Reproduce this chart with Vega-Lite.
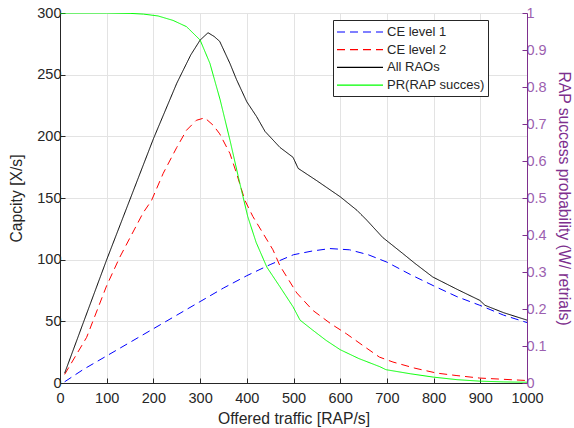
{
  "$schema": "https://vega.github.io/schema/vega-lite/v6.json",
  "width": 467,
  "height": 370,
  "autosize": {"type": "none"},
  "padding": {"left": 60, "top": 13, "right": 47, "bottom": 45},
  "background": "white",
  "config": {
    "view": {"stroke": "#e6e6e6"},
    "font": "Liberation Sans",
    "axis": {
      "labelFont": "Liberation Sans",
      "titleFont": "Liberation Sans",
      "labelFontSize": 14.5,
      "titleFontSize": 15.7,
      "titleFontWeight": "normal",
      "labelColor": "#262626",
      "titleColor": "#262626",
      "domainColor": "#262626",
      "tickColor": "#262626",
      "gridColor": "#e3e3e3",
      "gridWidth": 1,
      "tickSize": -5,
      "labelPadding": 4,
      "labelOverlap": false,
      "labelFlush": false
    },
    "legend": {
      "orient": "none",
      "legendX": 273,
      "legendY": 7,
      "strokeColor": "#262626",
      "fillColor": "white",
      "padding": 3,
      "symbolType": "M-1,0H4.75",
      "symbolSize": 256,
      "symbolStrokeWidth": 1.2,
      "labelFont": "Liberation Sans",
      "labelFontSize": 13,
      "labelColor": "#262626",
      "labelOffset": 33,
      "rowPadding": 1.7
    }
  },
  "data": {
    "values": [
      {"x": 10, "series": "CE level 1", "v": 1},
      {"x": 50, "series": "CE level 1", "v": 11},
      {"x": 100, "series": "CE level 1", "v": 22},
      {"x": 150, "series": "CE level 1", "v": 33},
      {"x": 200, "series": "CE level 1", "v": 44},
      {"x": 250, "series": "CE level 1", "v": 55},
      {"x": 300, "series": "CE level 1", "v": 66},
      {"x": 350, "series": "CE level 1", "v": 77},
      {"x": 400, "series": "CE level 1", "v": 87},
      {"x": 450, "series": "CE level 1", "v": 96},
      {"x": 500, "series": "CE level 1", "v": 104},
      {"x": 540, "series": "CE level 1", "v": 107},
      {"x": 578, "series": "CE level 1", "v": 109},
      {"x": 620, "series": "CE level 1", "v": 108},
      {"x": 660, "series": "CE level 1", "v": 104},
      {"x": 700, "series": "CE level 1", "v": 98},
      {"x": 750, "series": "CE level 1", "v": 88},
      {"x": 799, "series": "CE level 1", "v": 79},
      {"x": 850, "series": "CE level 1", "v": 70},
      {"x": 899, "series": "CE level 1", "v": 63},
      {"x": 950, "series": "CE level 1", "v": 55},
      {"x": 1000, "series": "CE level 1", "v": 49},

      {"x": 10, "series": "CE level 2", "v": 7},
      {"x": 57, "series": "CE level 2", "v": 37},
      {"x": 100, "series": "CE level 2", "v": 79},
      {"x": 128, "series": "CE level 2", "v": 102},
      {"x": 178, "series": "CE level 2", "v": 138},
      {"x": 196, "series": "CE level 2", "v": 148},
      {"x": 221, "series": "CE level 2", "v": 170},
      {"x": 250, "series": "CE level 2", "v": 191},
      {"x": 271, "series": "CE level 2", "v": 205},
      {"x": 292, "series": "CE level 2", "v": 213},
      {"x": 310, "series": "CE level 2", "v": 215},
      {"x": 328, "series": "CE level 2", "v": 209},
      {"x": 342, "series": "CE level 2", "v": 202},
      {"x": 364, "series": "CE level 2", "v": 186},
      {"x": 378, "series": "CE level 2", "v": 170},
      {"x": 396, "series": "CE level 2", "v": 148},
      {"x": 413, "series": "CE level 2", "v": 135},
      {"x": 456, "series": "CE level 2", "v": 108},
      {"x": 471, "series": "CE level 2", "v": 95},
      {"x": 507, "series": "CE level 2", "v": 73},
      {"x": 541, "series": "CE level 2", "v": 59},
      {"x": 580, "series": "CE level 2", "v": 48},
      {"x": 613, "series": "CE level 2", "v": 40},
      {"x": 650, "series": "CE level 2", "v": 30},
      {"x": 684, "series": "CE level 2", "v": 21},
      {"x": 713, "series": "CE level 2", "v": 17},
      {"x": 760, "series": "CE level 2", "v": 12},
      {"x": 807, "series": "CE level 2", "v": 8},
      {"x": 850, "series": "CE level 2", "v": 6},
      {"x": 899, "series": "CE level 2", "v": 4},
      {"x": 950, "series": "CE level 2", "v": 3},
      {"x": 1000, "series": "CE level 2", "v": 2},

      {"x": 10, "series": "All RAOs", "v": 8},
      {"x": 50, "series": "All RAOs", "v": 49},
      {"x": 100, "series": "All RAOs", "v": 100},
      {"x": 150, "series": "All RAOs", "v": 149},
      {"x": 200, "series": "All RAOs", "v": 198},
      {"x": 250, "series": "All RAOs", "v": 243},
      {"x": 280, "series": "All RAOs", "v": 266},
      {"x": 300, "series": "All RAOs", "v": 278},
      {"x": 317, "series": "All RAOs", "v": 284},
      {"x": 330, "series": "All RAOs", "v": 281},
      {"x": 342, "series": "All RAOs", "v": 277},
      {"x": 364, "series": "All RAOs", "v": 259},
      {"x": 378, "series": "All RAOs", "v": 246},
      {"x": 400, "series": "All RAOs", "v": 228},
      {"x": 421, "series": "All RAOs", "v": 216},
      {"x": 439, "series": "All RAOs", "v": 204},
      {"x": 471, "series": "All RAOs", "v": 191},
      {"x": 499, "series": "All RAOs", "v": 183},
      {"x": 510, "series": "All RAOs", "v": 174},
      {"x": 550, "series": "All RAOs", "v": 164},
      {"x": 600, "series": "All RAOs", "v": 151},
      {"x": 636, "series": "All RAOs", "v": 140},
      {"x": 657, "series": "All RAOs", "v": 132},
      {"x": 691, "series": "All RAOs", "v": 118},
      {"x": 734, "series": "All RAOs", "v": 105},
      {"x": 760, "series": "All RAOs", "v": 97},
      {"x": 798, "series": "All RAOs", "v": 86},
      {"x": 850, "series": "All RAOs", "v": 76},
      {"x": 899, "series": "All RAOs", "v": 67},
      {"x": 910, "series": "All RAOs", "v": 63},
      {"x": 950, "series": "All RAOs", "v": 57},
      {"x": 1000, "series": "All RAOs", "v": 51},

      {"x": 0, "series": "PR(RAP succes)", "v": 1},
      {"x": 100, "series": "PR(RAP succes)", "v": 1},
      {"x": 150, "series": "PR(RAP succes)", "v": 0.999},
      {"x": 179, "series": "PR(RAP succes)", "v": 0.997},
      {"x": 210, "series": "PR(RAP succes)", "v": 0.992},
      {"x": 242, "series": "PR(RAP succes)", "v": 0.98},
      {"x": 271, "series": "PR(RAP succes)", "v": 0.963},
      {"x": 300, "series": "PR(RAP succes)", "v": 0.927},
      {"x": 321, "series": "PR(RAP succes)", "v": 0.864},
      {"x": 343, "series": "PR(RAP succes)", "v": 0.765},
      {"x": 364, "series": "PR(RAP succes)", "v": 0.656},
      {"x": 385, "series": "PR(RAP succes)", "v": 0.54},
      {"x": 402, "series": "PR(RAP succes)", "v": 0.45},
      {"x": 420, "series": "PR(RAP succes)", "v": 0.38},
      {"x": 443, "series": "PR(RAP succes)", "v": 0.313},
      {"x": 471, "series": "PR(RAP succes)", "v": 0.26},
      {"x": 499, "series": "PR(RAP succes)", "v": 0.206},
      {"x": 514, "series": "PR(RAP succes)", "v": 0.17},
      {"x": 541, "series": "PR(RAP succes)", "v": 0.143},
      {"x": 570, "series": "PR(RAP succes)", "v": 0.115},
      {"x": 600, "series": "PR(RAP succes)", "v": 0.09},
      {"x": 640, "series": "PR(RAP succes)", "v": 0.066},
      {"x": 685, "series": "PR(RAP succes)", "v": 0.044},
      {"x": 698, "series": "PR(RAP succes)", "v": 0.036},
      {"x": 750, "series": "PR(RAP succes)", "v": 0.025},
      {"x": 799, "series": "PR(RAP succes)", "v": 0.016},
      {"x": 850, "series": "PR(RAP succes)", "v": 0.009},
      {"x": 899, "series": "PR(RAP succes)", "v": 0.005},
      {"x": 950, "series": "PR(RAP succes)", "v": 0.003},
      {"x": 1000, "series": "PR(RAP succes)", "v": 0.002}
    ]
  },
  "layer": [
    {
      "transform": [{"filter": "datum.series !== 'PR(RAP succes)'"}],
      "mark": {"type": "line", "strokeWidth": 1, "clip": true},
      "encoding": {
        "x": {
          "field": "x", "type": "quantitative",
          "scale": {"domain": [0, 1000], "nice": false},
          "axis": {"title": "Offered traffic [RAP/s]", "values": [0,100,200,300,400,500,600,700,800,900,1000], "format": "d", "grid": true, "labelPadding": 13, "titlePadding": 7}
        },
        "y": {
          "field": "v", "type": "quantitative",
          "scale": {"domain": [0, 300], "nice": false},
          "axis": {"title": "Capcity [X/s]", "values": [0,50,100,150,200,250,300], "grid": true, "titlePadding": 12}
        },
        "color": {
          "field": "series", "type": "nominal",
          "scale": {"domain": ["CE level 1", "CE level 2", "All RAOs", "PR(RAP succes)"], "range": ["#0000ff", "#ff0000", "#000000", "#00ff00"]},
          "legend": {"title": null}
        },
        "strokeDash": {
          "field": "series", "type": "nominal",
          "scale": {"domain": ["CE level 1", "CE level 2", "All RAOs", "PR(RAP succes)"], "range": [[8, 5], [8, 5], [1, 0], [1, 0]]},
          "legend": {"title": null}
        },
        "order": {"field": "x", "type": "quantitative"}
      }
    },
    {
      "transform": [{"filter": "datum.series === 'PR(RAP succes)'"}],
      "mark": {"type": "line", "strokeWidth": 1, "clip": true},
      "encoding": {
        "x": {"field": "x", "type": "quantitative"},
        "y": {
          "field": "v", "type": "quantitative",
          "scale": {"domain": [0, 1], "nice": false},
          "axis": {
            "orient": "right",
            "title": "RAP success probability (W/ retrials)",
            "values": [0, 0.1, 0.2, 0.3, 0.4, 0.5, 0.6, 0.7, 0.8, 0.9, 1],
            "format": ".1~f",
            "grid": false,
            "domainColor": "#7e2f8e",
            "tickColor": "#7e2f8e",
            "labelColor": "#9c5fb0",
            "titleColor": "#7e2f8e",
            "titlePadding": 9
          }
        },
        "color": {"field": "series", "type": "nominal"},
        "strokeDash": {"field": "series", "type": "nominal"},
        "order": {"field": "x", "type": "quantitative"}
      }
    }
  ],
  "resolve": {"scale": {"y": "independent"}}
}
